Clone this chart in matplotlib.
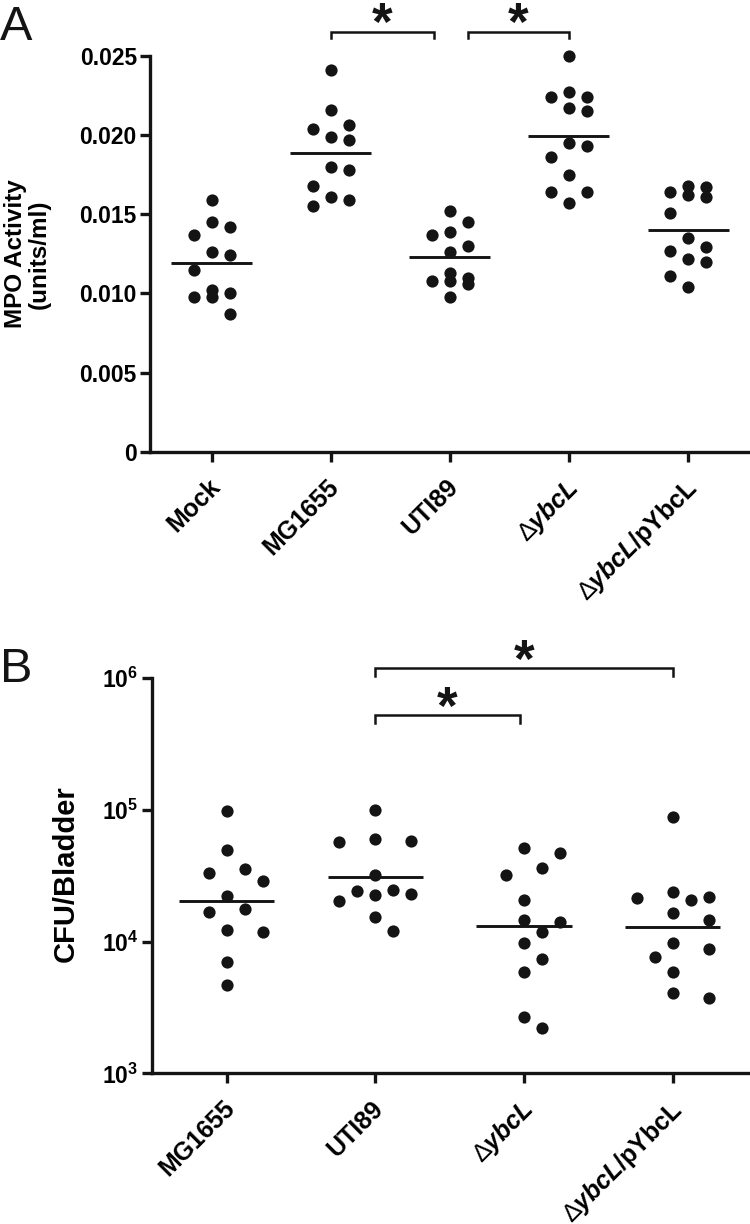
import matplotlib
matplotlib.use("Agg")
import matplotlib.pyplot as plt
import numpy as np
from matplotlib.transforms import ScaledTranslation

plt.rcParams['font.family'] = ['Liberation Sans', 'DejaVu Sans']
plt.rcParams['font.weight'] = 'bold'
plt.rcParams['mathtext.fontset'] = 'custom'
plt.rcParams['mathtext.rm'] = 'Liberation Sans:bold'
plt.rcParams['mathtext.it'] = 'Liberation Sans:italic:bold'
plt.rcParams['mathtext.bf'] = 'Liberation Sans:bold'
plt.rcParams['mathtext.sf'] = 'Liberation Sans:weight=normal'

# ---------------- data: panel A (MPO activity, units/ml) ----------------
a_labels = ['Mock', 'MG1655', 'UTI89', '$\\mathsf{\u2206}ybcL$', '$\\mathsf{\u2206}ybcL$/pYbcL']
a_mock = [0.0159, 0.0145, 0.0142, 0.0137, 0.0126, 0.0124, 0.0115, 0.0102, 0.0100, 0.0098, 0.0098, 0.0087]
a_mg1655 = [0.0241, 0.0216, 0.0206, 0.0204, 0.0199, 0.0197, 0.0180, 0.0178, 0.0168, 0.0161, 0.0159, 0.0155]
a_uti89 = [0.0152, 0.0145, 0.0137, 0.0139, 0.0130, 0.0126, 0.0113, 0.0108, 0.0110, 0.0108, 0.0106, 0.0098]
a_dybcl = [0.0250, 0.0227, 0.0224, 0.0224, 0.0217, 0.0215, 0.0195, 0.0193, 0.0186, 0.0175, 0.0164, 0.0164, 0.0157]
a_comp = [0.0167, 0.0168, 0.0164, 0.0162, 0.0161, 0.0151, 0.0135, 0.0129, 0.0127, 0.0122, 0.0120, 0.0111, 0.0104]
a_yticks = [0, 0.005, 0.010, 0.015, 0.020, 0.025]
a_yticklabels = ['0', '0.005', '0.010', '0.015', '0.020', '0.025']
a_sig = [(1, 1.87), (2.15, 3)]

# ---------------- data: panel B (CFU/Bladder) ----------------
b_labels = ['MG1655', 'UTI89', '$\\mathsf{\u2206}ybcL$', '$\\mathsf{\u2206}ybcL$/pYbcL']
b_mg1655 = [98000, 49700, 35400, 33100, 28900, 22400, 17600, 16700, 11900, 12200, 7000, 4700]
b_uti89 = [100000, 58500, 56800, 60500, 32100, 24400, 22600, 20400, 23000, 24700, 15500, 12100]
b_dybcl = [51200, 46900, 36500, 32300, 20700, 14500, 14000, 11800, 9700, 7400, 5900, 2700, 2200]
b_comp = [88000, 22000, 20700, 21300, 24000, 16600, 14500, 9700, 8800, 7650, 5900, 3700, 4050]
b_yticks = [1e3, 1e4, 1e5, 1e6]
b_yticklabels = ['$10^{3}$', '$10^{4}$', '$10^{5}$', '$10^{6}$']
b_sig = [(1, 1.97), (1, 3)]

INK = '#141414'
W, H = 750, 1224
fig = plt.figure(figsize=(W / 100, H / 100), dpi=100)


def swarm_x(ax, xc, vals, cols, step_px=18.0, min_px=20.0):
    pts = ax.transData.transform(np.column_stack([np.full(len(vals), xc), vals]))
    ys = pts[:, 1]
    x0 = pts[0, 0]
    order = np.argsort(-ys, kind='stable')
    placed = []
    xs = np.zeros(len(vals))
    for i in order:
        best, best_d = x0, -1.0
        for k in cols:
            cand = x0 + k * step_px
            d = min([np.hypot(cand - px, ys[i] - py) for px, py in placed] or [np.inf])
            if d >= min_px:
                best = cand
                break
            if d > best_d:
                best, best_d = cand, d
        placed.append((best, ys[i]))
        xs[i] = best
    back = ax.transData.inverted().transform(np.column_stack([xs, ys]))
    return back[:, 0]


def style_axes(ax):
    for s in ['top', 'right']:
        ax.spines[s].set_visible(False)
    for s in ['left', 'bottom']:
        ax.spines[s].set_linewidth(2.4)
        ax.spines[s].set_color(INK)
    ax.tick_params(axis='both', which='major', direction='out', length=7.5, width=2.4, color=INK)
    ax.tick_params(axis='y', labelsize=16.5, pad=2)
    ax.tick_params(axis='x', labelsize=18, pad=9)
    ax.minorticks_off()


def draw_groups(ax, groups, center_fn, halfw, cols):
    for i, vals in enumerate(groups):
        v = np.asarray(vals, dtype=float)
        x = swarm_x(ax, i, v, cols)
        ax.plot(x, v, 'o', ms=8.8, color=INK, mec='none', clip_on=False, zorder=3)
        m = center_fn(v)
        ax.plot([i - halfw, i + halfw], [m, m], color=INK, lw=2.1,
                solid_capstyle='butt', zorder=2, clip_on=False)


def set_xlabels(ax, labels):
    ax.set_xticks(range(len(labels)))
    ax.set_xticklabels(labels, rotation=45, ha='right', va='top', rotation_mode='anchor')
    off = ScaledTranslation(-4 / 100, 0, fig.dpi_scale_trans)
    for lab in ax.get_xticklabels():
        lab.set_transform(lab.get_transform() + off)


def bracket(ax, x0, x1, y, y_end):
    ax.plot([x0, x0, x1, x1], [y_end, y, y, y_end], color=INK, lw=1.8,
            clip_on=False, solid_joinstyle='miter')
    ax.annotate('*', xy=((x0 + x1) / 2, y), xytext=(0, -6), textcoords='offset points',
                ha='center', va='baseline', fontsize=38, fontweight='bold', color=INK,
                annotation_clip=False)


# ---------------- panel A ----------------
axA = fig.add_axes([150 / W, 1 - 451.7 / H, (W - 150) / W, (451.7 - 55.8) / H])
axA.set_xlim(-0.518, 4.52)
axA.set_ylim(0, 0.025)
style_axes(axA)
axA.set_yticks(a_yticks)
axA.set_yticklabels(a_yticklabels)
set_xlabels(axA, a_labels)
draw_groups(axA, [a_mock, a_mg1655, a_uti89, a_dybcl, a_comp], np.mean, 0.34, [0, 1, -1])
for x0, x1 in a_sig:
    bracket(axA, x0, x1, 0.02652, 0.02612)
axA.set_ylabel('MPO Activity\n(units/ml)', fontsize=17.5, fontweight='bold', linespacing=1.05)
axA.yaxis.set_label_coords(-0.165, 0.5)

# ---------------- panel B ----------------
axB = fig.add_axes([151.7 / W, 1 - 1073.3 / H, (W - 151.7) / W, (1073.3 - 678.3) / H])
axB.set_yscale('log')
axB.set_xlim(-0.504, 3.52)
axB.set_ylim(1e3, 1e6)
style_axes(axB)
axB.set_yticks(b_yticks)
axB.set_yticklabels(b_yticklabels)
axB.minorticks_off()
set_xlabels(axB, b_labels)
draw_groups(axB, [b_mg1655, b_uti89, b_dybcl, b_comp],
            lambda v: float(np.exp(np.mean(np.log(v)))), 0.32, [0, 1, -1, 2, -2])
bracket(axB, b_sig[1][0], b_sig[1][1], 10 ** 6.076, 10 ** 6.015)
bracket(axB, b_sig[0][0], b_sig[0][1], 10 ** 5.72, 10 ** 5.66)
axB.set_ylabel('CFU/Bladder', fontsize=21, fontweight='bold')
axB.yaxis.set_label_coords(-0.12, 0.506)

# panel letters
fig.text(0.0, 1 - 40 / H, 'A', fontsize=35, fontweight='normal', ha='left', va='baseline', color=INK)
fig.text(0.0, 1 - 682 / H, 'B', fontsize=35, fontweight='normal', ha='left', va='baseline', color=INK)

fig.savefig('out.png', dpi=100)
